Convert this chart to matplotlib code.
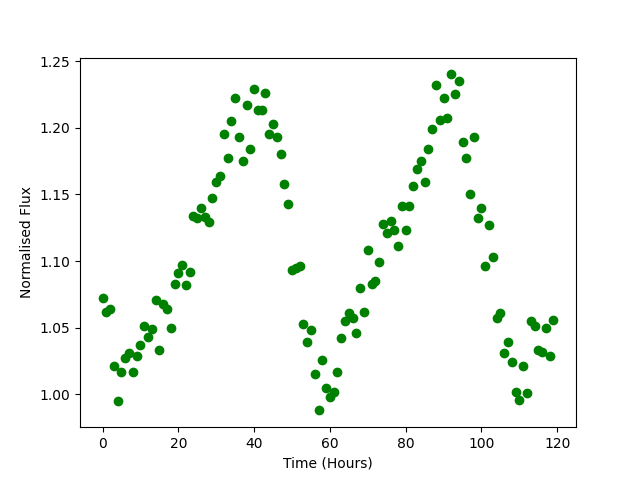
import matplotlib
matplotlib.use("Agg")
import matplotlib.pyplot as plt
import numpy as np

hours = np.arange(120)
flux = [
    1.072, 1.062, 1.064, 1.021, 0.995, 1.017, 1.027, 1.031, 1.017, 1.029,
    1.037, 1.051, 1.043, 1.049, 1.071, 1.033, 1.068, 1.064, 1.050, 1.083,
    1.091, 1.097, 1.082, 1.092, 1.134, 1.132, 1.140, 1.133, 1.129, 1.147,
    1.159, 1.164, 1.195, 1.177, 1.205, 1.222, 1.193, 1.175, 1.217, 1.184,
    1.229, 1.213, 1.213, 1.226, 1.195, 1.203, 1.193, 1.180, 1.158, 1.143,
    1.093, 1.095, 1.096, 1.053, 1.039, 1.048, 1.015, 0.988, 1.026, 1.005,
    0.998, 1.002, 1.017, 1.042, 1.055, 1.061, 1.057, 1.046, 1.080, 1.062,
    1.108, 1.083, 1.085, 1.099, 1.128, 1.121, 1.130, 1.123, 1.111, 1.141,
    1.123, 1.141, 1.156, 1.169, 1.175, 1.159, 1.184, 1.199, 1.232, 1.206,
    1.222, 1.207, 1.240, 1.225, 1.235, 1.189, 1.177, 1.150, 1.193, 1.132,
    1.140, 1.096, 1.127, 1.103, 1.057, 1.061, 1.031, 1.039, 1.024, 1.002,
    0.996, 1.021, 1.001, 1.055, 1.051, 1.033, 1.032, 1.050, 1.029, 1.056,
]

fig, ax = plt.subplots(figsize=(6.4, 4.8), dpi=100)
ax.plot(hours, flux, "o", color="green")
ax.set_xlabel("Time (Hours)")
ax.set_ylabel("Normalised Flux")
plt.savefig("out.png")
